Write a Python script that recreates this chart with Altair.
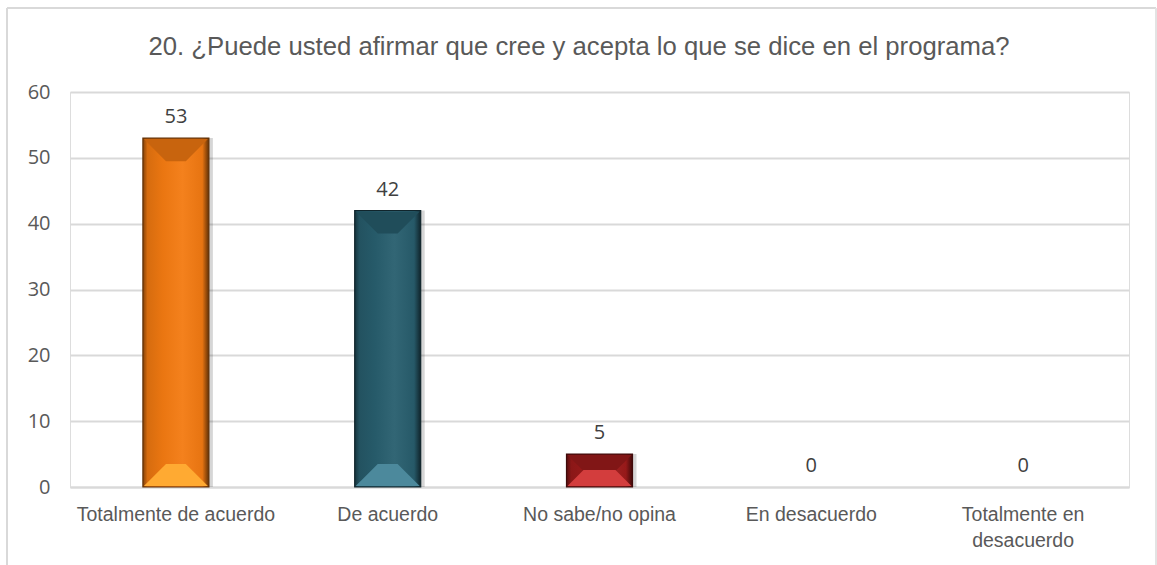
import altair as alt
import pandas as pd

categories = ["Totalmente de acuerdo", "De acuerdo", "No sabe/no opina",
              "En desacuerdo", "Totalmente en desacuerdo"]
values = [53, 42, 5, 0, 0]
bar_colors = ["#F47B12", "#285E6E", "#9E1B1B", "#8A8A8A", "#8A8A8A"]
y_ticks = [0, 10, 20, 30, 40, 50, 60]
title_text = "20. ¿Puede usted afirmar que cree y acepta lo que se dice en el programa?"

df = pd.DataFrame({"cat": categories, "v": values})

NARROW = "Liberation Sans Narrow, Arial Narrow, Liberation Sans, Arial, sans-serif"
BODY = "Open Sans, Noto Sans, sans-serif"


def shade(hexc, f):
    hexc = hexc.lstrip("#")
    r, g, b = (int(hexc[i:i + 2], 16) for i in (0, 2, 4))
    if f < 0:
        r, g, b = (int(c * (1 + f)) for c in (r, g, b))
    else:
        r, g, b = (int(c + (255 - c) * f) for c in (r, g, b))
    return "#%02x%02x%02x" % (r, g, b)


def brighten(hexc, k=1.3, w=0.12):
    hexc = hexc.lstrip("#")
    r, g, b = (min(255, int(int(hexc[i:i + 2], 16) * k)) for i in (0, 2, 4))
    r, g, b = (int(c + (255 - c) * w) for c in (r, g, b))
    return "#%02x%02x%02x" % (r, g, b)


def gradient(base):
    return alt.Gradient(
        gradient="linear", x1=0, x2=1, y1=0, y2=0,
        stops=[
            alt.GradientStop(color=shade(base, -0.45), offset=0),
            alt.GradientStop(color=shade(base, -0.12), offset=0.07),
            alt.GradientStop(color=shade(base, -0.04), offset=0.3),
            alt.GradientStop(color=shade(base, 0.05), offset=0.6),
            alt.GradientStop(color=shade(base, -0.05), offset=0.9),
            alt.GradientStop(color=shade(base, -0.6), offset=1),
        ],
    )


x_enc = alt.X(
    "cat:N", sort=categories, title=None,
    scale=alt.Scale(paddingInner=0, paddingOuter=0),
    axis=alt.Axis(
        labelAngle=0, ticks=False, grid=False, domain=True,
        domainColor="#d9d9d9", domainWidth=2,
        labelFont=NARROW, labelFontSize=19.5, labelColor="#595959",
        labelPadding=18, labelLineHeight=26, labelLimit=400,
        labelExpr="datum.label == 'Totalmente en desacuerdo' ? ['Totalmente en', 'desacuerdo'] : datum.label",
    ),
)
y_scale = alt.Scale(domain=[0, 60], nice=False)
y_enc = alt.Y(
    "v:Q", scale=y_scale, title=None,
    axis=alt.Axis(
        values=y_ticks, ticks=False, domain=False, grid=True,
        gridColor="#d9d9d9", gridWidth=2,
        labelFont=BODY, labelFontSize=20, labelColor="#595959", labelPadding=20,
    ),
)

base = alt.Chart(df)

BAR_W = 66
shadow = base.transform_filter("datum.v > 0").mark_bar(
    width=BAR_W, color="black", opacity=0.16, xOffset=4
).encode(x=x_enc, y=y_enc)

SIZE = 64 * 64
top_tall = "M-1,0 L1,0 L0.31,0.69 L-0.31,0.69 Z"
bot_tall = "M-1,0 L1,0 L0.31,-0.69 L-0.31,-0.69 Z"
top_short = "M-1,0 L1,0 L0.5,0.5 L-0.5,0.5 Z"
bot_short = "M-1,0 L1,0 L0.5,-0.5 L-0.5,-0.5 Z"

bar_layers = []
bevels = []
for cat, col in zip(categories, bar_colors):
    sel = base.transform_filter(alt.datum.cat == cat).transform_filter("datum.v > 0")
    bar_layers.append(
        sel.mark_bar(
            width=BAR_W, color=gradient(col), stroke=shade(col, -0.6), strokeWidth=1.2
        ).encode(x=x_enc, y=y_enc)
    )
    for cond, tpath, bpath in [("datum.v >= 10", top_tall, bot_tall),
                               ("datum.v < 10", top_short, bot_short)]:
        bevels.append(
            sel.transform_filter(cond).mark_point(
                shape=tpath, size=SIZE, filled=True, fill=shade(col, -0.18),
                fillOpacity=1, strokeWidth=0, opacity=1, yOffset=1
            ).encode(x=x_enc, y=y_enc)
        )
        bevels.append(
            sel.transform_filter(cond).transform_calculate(zero="0").mark_point(
                shape=bpath, size=SIZE, filled=True, fill=brighten(col),
                fillOpacity=1, strokeWidth=0, opacity=1, yOffset=-1
            ).encode(x=x_enc, y=alt.Y("zero:Q", scale=y_scale))
        )

labels = base.mark_text(
    baseline="alphabetic", dy=-15, font=BODY, fontSize=20, color="#404040"
).encode(x=x_enc, y=y_enc, text="v:Q")

frame_data = alt.Data(values=[{"k": 1}])
title_mark = alt.Chart(frame_data).mark_text(
    text=title_text, font=NARROW, fontSize=25.7, color="#595959",
    align="center", baseline="alphabetic"
).encode(x=alt.value(509), y=alt.value(-37))
frame_top = alt.Chart(frame_data).mark_rule(color="#d9d9d9", strokeWidth=2).encode(
    x=alt.value(-63), x2=alt.value(1086), y=alt.value(-84))
frame_left = alt.Chart(frame_data).mark_rule(color="#d9d9d9", strokeWidth=2).encode(
    x=alt.value(-63), y=alt.value(-84), y2=alt.value(480))
frame_right = alt.Chart(frame_data).mark_rule(color="#e3e3e3", strokeWidth=2).encode(
    x=alt.value(1086), y=alt.value(-84), y2=alt.value(480))

chart = alt.layer(
    shadow, *bar_layers, *bevels, labels, title_mark, frame_top, frame_left, frame_right
).properties(
    width=1059, height=395,
    autosize=alt.AutoSizeParams(type="none"),
    padding={"left": 70, "top": 92, "right": 28, "bottom": 78},
).configure_view(stroke=None).configure(background="white")

chart.save("out.html", embed_options={"renderer": "svg", "actions": False})
